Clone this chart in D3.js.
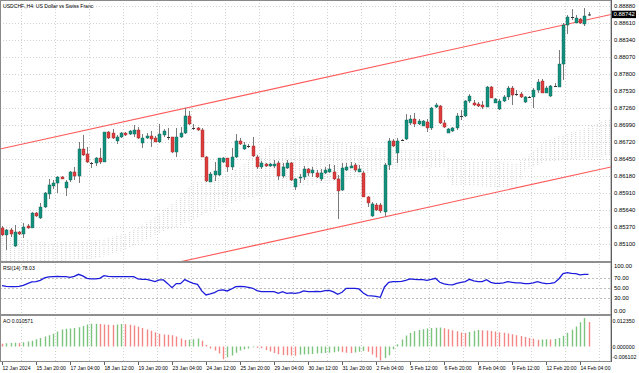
<!DOCTYPE html>
<html>
<head>
<meta charset="utf-8">
<script src="https://cdn.jsdelivr.net/npm/d3@7"></script>
<style>
  body { margin: 0; background: #fff; }
  svg { display: block; font-family: "Liberation Sans", Arial, sans-serif; }
</style>
</head>
<body>
<script>
// USDCHF H4 candles (bar 0 = 12 Jan 2024 12:00)
var open = [0.85359,0.85248,0.85327,0.85073,0.85295,0.85263,0.85390,0.85359,0.85596,0.85517,
  0.85691,0.85897,0.86024,0.86071,0.86166,0.85992,0.86119,0.86246,0.86182,0.86610,
  0.86531,0.86388,0.86388,0.86467,0.86404,0.86879,0.86863,0.86737,0.86800,0.86863,
  0.86847,0.86847,0.86911,0.86705,0.86784,0.86816,0.86784,0.86721,0.86832,0.86800,
  0.86800,0.86562,0.86800,0.86863,0.87133,0.86943,0.86943,0.86911,0.86483,0.86087,
  0.86198,0.86198,0.86404,0.86467,0.86325,0.86483,0.86737,0.86610,0.86657,0.86657,
  0.86483,0.86325,0.86372,0.86341,0.86341,0.86388,0.86182,0.86309,0.86388,0.86008,
  0.86151,0.86166,0.86293,0.86230,0.86230,0.86135,0.86230,0.86246,0.86246,0.86135,
  0.85960,0.86277,0.86309,0.86356,0.86246,0.86230,0.85850,0.85549,0.85723,0.85723,
  0.85612,0.86356,0.86737,0.86547,0.86752,0.86768,0.87022,0.87085,0.87006,0.86974,
  0.87038,0.86943,0.87275,0.87291,0.87022,0.86863,0.86895,0.86943,0.87133,0.87133,
  0.87370,0.87339,0.87323,0.87307,0.87275,0.87592,0.87339,0.87243,0.87370,0.87434,
  0.87576,0.87481,0.87481,0.87354,0.87434,0.87434,0.87544,0.87687,0.87497,0.87449,
  0.87608,0.87592,0.87956,0.88574,0.88701,0.88606,0.88669,0.88590,0.88742];
var high = [0.85390,0.85343,0.85359,0.85406,0.85311,0.85438,0.85422,0.85612,0.85612,0.85755,
  0.85929,0.86135,0.86119,0.86182,0.86182,0.86119,0.86261,0.86325,0.86721,0.86832,
  0.86642,0.86404,0.86483,0.86626,0.86879,0.86895,0.86927,0.86832,0.86879,0.86879,
  0.86911,0.86990,0.86958,0.86847,0.86863,0.86895,0.86816,0.87006,0.86927,0.86943,
  0.86800,0.86943,0.86958,0.87259,0.87212,0.87006,0.86958,0.86943,0.86499,0.86246,
  0.86404,0.86467,0.86483,0.86467,0.86626,0.86847,0.86784,0.86721,0.86689,0.86800,
  0.86515,0.86420,0.86388,0.86388,0.86436,0.86420,0.86388,0.86436,0.86404,0.86151,
  0.86214,0.86341,0.86309,0.86325,0.86277,0.86293,0.86325,0.86372,0.86356,0.86198,
  0.86388,0.86388,0.86404,0.86388,0.86356,0.86261,0.85865,0.85770,0.85755,0.85755,
  0.86388,0.86784,0.86768,0.86784,0.86768,0.87164,0.87148,0.87180,0.87085,0.87069,
  0.87085,0.87275,0.87339,0.87307,0.87069,0.86943,0.86958,0.87180,0.87228,0.87386,
  0.87481,0.87386,0.87354,0.87370,0.87608,0.87608,0.87418,0.87402,0.87465,0.87608,
  0.87608,0.87544,0.87513,0.87449,0.87449,0.87576,0.87719,0.87719,0.87608,0.87624,
  0.87655,0.88178,0.88606,0.88732,0.88827,0.88732,0.88685,0.88843,0.88780];
var low = [0.85232,0.85010,0.85216,0.85058,0.85248,0.85200,0.85343,0.85359,0.85533,0.85501,
  0.85675,0.85818,0.85976,0.85913,0.86135,0.85865,0.86087,0.86119,0.86071,0.86499,
  0.86388,0.86309,0.86341,0.86372,0.86404,0.86768,0.86768,0.86689,0.86784,0.86816,
  0.86832,0.86800,0.86768,0.86626,0.86768,0.86642,0.86721,0.86705,0.86800,0.86752,
  0.86547,0.86483,0.86784,0.86847,0.86990,0.86911,0.86895,0.86483,0.86087,0.86087,
  0.86103,0.86182,0.86388,0.86246,0.86277,0.86467,0.86673,0.86594,0.86626,0.86483,
  0.86293,0.86293,0.86325,0.86325,0.86309,0.86119,0.86151,0.86293,0.86103,0.85960,
  0.86071,0.86119,0.86182,0.86166,0.86151,0.86103,0.86214,0.86230,0.86119,0.85501,
  0.85945,0.86261,0.86309,0.86246,0.86246,0.85850,0.85691,0.85533,0.85628,0.85596,
  0.85533,0.86277,0.86642,0.86388,0.86737,0.86752,0.86990,0.86958,0.86990,0.86974,
  0.86879,0.86911,0.87259,0.87006,0.86943,0.86863,0.86879,0.86911,0.87069,0.87117,
  0.87339,0.87291,0.87275,0.87243,0.87275,0.87418,0.87339,0.87228,0.87354,0.87386,
  0.87307,0.87449,0.87418,0.87339,0.87418,0.87259,0.87497,0.87497,0.87497,0.87434,
  0.87592,0.87592,0.87703,0.88431,0.88653,0.88606,0.88590,0.88558,0.88717];
var close = [0.85248,0.85327,0.85263,0.85295,0.85263,0.85374,0.85359,0.85596,0.85549,0.85691,
  0.85913,0.86040,0.86071,0.86166,0.86135,0.86087,0.86246,0.86182,0.86610,0.86515,
  0.86404,0.86388,0.86467,0.86404,0.86879,0.86784,0.86784,0.86800,0.86863,0.86832,
  0.86895,0.86911,0.86784,0.86784,0.86816,0.86768,0.86721,0.86847,0.86895,0.86800,
  0.86562,0.86800,0.86863,0.87133,0.87006,0.86943,0.86911,0.86483,0.86103,0.86214,
  0.86261,0.86467,0.86467,0.86325,0.86483,0.86737,0.86689,0.86673,0.86657,0.86499,
  0.86325,0.86388,0.86341,0.86372,0.86372,0.86182,0.86325,0.86388,0.86119,0.86135,
  0.86166,0.86293,0.86230,0.86277,0.86166,0.86230,0.86277,0.86293,0.86135,0.85945,
  0.86309,0.86325,0.86341,0.86277,0.86293,0.85850,0.85755,0.85739,0.85644,0.85628,
  0.86356,0.86737,0.86657,0.86737,0.86752,0.87069,0.87085,0.87006,0.87053,0.87053,
  0.86943,0.87259,0.87307,0.87022,0.86958,0.86927,0.86943,0.87133,0.87133,0.87370,
  0.87449,0.87307,0.87291,0.87275,0.87592,0.87418,0.87402,0.87370,0.87434,0.87576,
  0.87465,0.87481,0.87434,0.87434,0.87434,0.87544,0.87671,0.87497,0.87576,0.87608,
  0.87608,0.87956,0.88574,0.88701,0.88701,0.88685,0.88606,0.88717,0.88742];

// RSI(14)
var rsi = [55.3,54,53.3,53.3,54,56,59.3,62.7,63.3,66,
  70.7,72.7,73.3,74,73.3,73.3,72,74,78,74.7,
  70,68.7,68.7,70,75.3,74,73.3,73.3,73.3,73.3,
  73.3,73.3,68.7,68,68,66,63.3,66.7,66.7,59.3,
  51.3,59.3,59.3,67.3,63.3,60,58,44.7,36.7,38.7,
  41.3,46,46.7,44.7,48.7,53.3,54,53.3,52,50,
  45.3,43.3,43.3,43.3,43.3,40,43.3,40,40.7,40,
  41.3,44.7,43.3,43.3,44,43.3,45.3,46,42.7,38,
  42,50,50,50,48.7,40.7,35.3,34.7,34,32,
  52.7,62,63.3,63.3,64,66,68.7,68,67.3,67.3,
  66,68,70,62,58.7,57.3,56.7,60,62,63.3,
  68,64.7,63.3,63.3,67.3,62,60,60,60.7,63.3,
  62,60.7,60.7,59.3,59.3,60.7,63.3,60.7,59.3,60,
  61.3,68.7,79.3,81.3,80,79.3,76.7,78,78.03];

// Awesome Oscillator
var ao = [0.0012,0.0014,0.0015,0.0016,0.0015,0.0018,0.0022,0.0025,0.0031,0.0037,
  0.0043,0.0049,0.0055,0.0065,0.0074,0.0077,0.0078,0.0080,0.0083,0.0089,
  0.0095,0.0098,0.0099,0.0097,0.0095,0.0094,0.0093,0.0095,0.0097,0.0096,
  0.0094,0.0091,0.0086,0.0080,0.0074,0.0068,0.0062,0.0055,0.0052,0.0051,
  0.0049,0.0043,0.0034,0.0028,0.0029,0.0031,0.0034,0.0025,0.0006,-0.0009,
  -0.0018,-0.0031,-0.0056,-0.0047,-0.0039,-0.0027,-0.0018,-0.0012,-0.0009,-0.0004,
  -0.0006,-0.0008,-0.0015,-0.0022,-0.0028,-0.0034,-0.0037,-0.0038,-0.0039,-0.0040,
  -0.0036,-0.0035,-0.0034,-0.0033,-0.0031,-0.0030,-0.0029,-0.0027,-0.0025,-0.0022,
  -0.0025,-0.0027,-0.0028,-0.0026,-0.0023,-0.0020,-0.0023,-0.0035,-0.0048,-0.006102,
  -0.0050,-0.0038,-0.0012,0.0010,0.0030,0.0048,0.0058,0.0066,0.0071,0.0075,
  0.0078,0.0080,0.0081,0.0082,0.0079,0.0075,0.0070,0.0066,0.0061,0.0058,
  0.0063,0.0068,0.0071,0.0070,0.0069,0.0067,0.0065,0.0062,0.0059,0.0056,
  0.0053,0.0049,0.0045,0.0041,0.0037,0.0033,0.0029,0.0030,0.0031,0.0030,
  0.0032,0.0037,0.0046,0.0059,0.0072,0.0087,0.0105,0.01235,0.010571];

// Ichimoku cloud outline (bar position, upper and lower edge)
var cloudBars   = [-0.5, 11.3, 23, 30, 35, 39, 42, 45, 49, 54, 59, 62, 68.5, 73, 82, 89, 104, 105.4, 121, 123, 128, 136, 143.3];
var cloudTop    = [0.85232,0.85121,0.85168,0.85295,0.85485,0.85691,0.85850,0.86087,0.86119,0.86230,0.86483,0.86642,0.86800,0.86832,0.86673,0.86626,0.86594,0.86436,0.86388,0.86467,0.86752,0.86911,0.87101];
var cloudBottom = [0.84820,0.84820,0.84883,0.85042,0.85200,0.85327,0.85390,0.85485,0.85628,0.85755,0.85850,0.85929,0.86008,0.86040,0.86119,0.86277,0.86325,0.86040,0.85992,0.86277,0.86404,0.86467,0.86499];

// trend channel (bar, price at both ends)
var channelBars  = [-0.47, 143.3];
var channelUpper = [0.86610, 0.88740];
var channelLower = [0.84194, 0.86325];

var priceTicks = [0.88880,0.88610,0.88340,0.88070,0.87800,0.87530,0.87260,0.86990,0.86720,0.86450,0.86180,0.85910,0.85640,0.85370,0.85100];
var rsiTicks = [100, 70, 50, 30, 0];
var rsiLevels = [70, 50, 30];
var aoTicks = [0.012350, 0.000000, -0.006102];
var dateLabels = ["12 Jan 2024","15 Jan 20:00","17 Jan 04:00","18 Jan 12:00","19 Jan 20:00","23 Jan 04:00",
  "24 Jan 12:00","25 Jan 20:00","29 Jan 04:00","30 Jan 12:00","31 Jan 20:00","2 Feb 04:00",
  "5 Feb 12:00","6 Feb 20:00","8 Feb 04:00","9 Feb 12:00","12 Feb 20:00","14 Feb 04:00"];
var lastPrice = 0.88742;

(function(){
    var width = 639, height = 373,
        plotRight = 611;

    var svg = d3.select("body").append("svg")
        .attr("width", width)
        .attr("height", height);

    //scales
    var x = d3.scaleLinear().domain([0, 138]).range([2, 588.5]);
    var yP = d3.scaleLinear().domain([0.85100, 0.88880]).range([244.3, 5.7]);
    var yR = d3.scaleLinear().domain([0, 100]).range([313.3, 263.3]);
    var yA = d3.scaleLinear().domain([-0.006102, 0.012350]).range([360.5, 318]);
    var step = x(1) - x(0);

    //panel boxes
    var panels = {
        main: [0, 261],
        rsi: [263, 314],
        ao: [316, 361.5]
    };

    var defs = svg.append("defs");
    Object.keys(panels).forEach(function(k){
        defs.append("clipPath").attr("id", "clip-" + k)
            .append("rect")
            .attr("x", 0).attr("y", panels[k][0])
            .attr("width", plotRight).attr("height", panels[k][1] - panels[k][0]);
    });

    //dotted hatch for the cloud
    defs.append("pattern")
        .attr("id", "kumo")
        .attr("patternUnits", "userSpaceOnUse")
        .attr("x", x(0) - 0.5).attr("y", 0)
        .attr("width", step).attr("height", 2)
        .append("rect")
        .attr("width", 1).attr("height", 1)
        .attr("fill", "#d3d3d3");

    //grid
    var grid = svg.append("g").attr("stroke", "#d2d2d2").attr("stroke-dasharray", "1,2");
    grid.selectAll(".hgrid")
        .data(priceTicks)
        .enter().append("line")
        .attr("x1", 0).attr("x2", plotRight)
        .attr("y1", function(d){ return Math.round(yP(d)) + 0.5; })
        .attr("y2", function(d){ return Math.round(yP(d)) + 0.5; });
    grid.selectAll(".vgrid")
        .data(dateLabels)
        .enter().append("line")
        .attr("x1", function(d, i){ return Math.round(x(i * 8 + 4.5)) + 0.5; })
        .attr("x2", function(d, i){ return Math.round(x(i * 8 + 4.5)) + 0.5; })
        .attr("y1", 0).attr("y2", 361);

    //main panel
    var main = svg.append("g").attr("clip-path", "url(#clip-main)");

    var cloud = cloudBars.map(function(b, i){
        return { bar: b, top: cloudTop[i], bottom: cloudBottom[i] };
    });
    main.append("path")
        .datum(cloud)
        .attr("fill", "url(#kumo)")
        .attr("d", d3.area()
            .x(function(d){ return x(d.bar); })
            .y0(function(d){ return yP(d.bottom); })
            .y1(function(d){ return yP(d.top); }));

    [channelUpper, channelLower].forEach(function(ch){
        main.append("line")
            .attr("x1", x(channelBars[0])).attr("y1", yP(ch[0]))
            .attr("x2", x(channelBars[1])).attr("y2", yP(ch[1]))
            .attr("stroke", "#ff5a5a")
            .attr("stroke-width", 1.1);
    });

    var bars = d3.range(open.length).map(function(i){
        return { i: i, o: open[i], h: high[i], l: low[i], c: close[i] };
    });

    var candles = main.selectAll(".candle")
        .data(bars)
        .enter().append("g")
        .attr("class", "candle");

    candles.append("line")
        .attr("x1", function(d){ return Math.round(x(d.i)) + 0.5; })
        .attr("x2", function(d){ return Math.round(x(d.i)) + 0.5; })
        .attr("y1", function(d){ return yP(d.h); })
        .attr("y2", function(d){ return yP(d.l); })
        .attr("stroke", "#7a7a7a")
        .attr("stroke-width", 1);

    candles.append("rect")
        .attr("x", function(d){ return Math.round(x(d.i)) - 1; })
        .attr("width", 3)
        .attr("y", function(d){ return Math.min(yP(d.o), yP(d.c)); })
        .attr("height", function(d){ return Math.max(1, Math.abs(yP(d.o) - yP(d.c))); })
        .attr("fill", function(d){
            if (d.c === d.o) return "#333";
            return d.c > d.o ? "#13907d" : "#de3d3d";
        })
        .attr("stroke", function(d){
            if (d.c === d.o) return "none";
            return d.c > d.o ? "#0b6356" : "#9c2626";
        })
        .attr("stroke-width", 0.4);

    //RSI panel
    var rsiG = svg.append("g").attr("clip-path", "url(#clip-rsi)");
    rsiG.selectAll(".lvl")
        .data(rsiLevels)
        .enter().append("line")
        .attr("x1", 0).attr("x2", plotRight)
        .attr("y1", function(d){ return Math.round(yR(d)) + 0.5; })
        .attr("y2", function(d){ return Math.round(yR(d)) + 0.5; })
        .attr("stroke", "#bdbdbd")
        .attr("stroke-dasharray", "2,2");
    rsiG.append("path")
        .datum(rsi)
        .attr("fill", "none")
        .attr("stroke", "#1c1cdc")
        .attr("stroke-width", 1.3)
        .attr("d", d3.line()
            .x(function(d, i){ return x(i); })
            .y(function(d){ return yR(d); }));

    //AO panel
    var aoG = svg.append("g").attr("clip-path", "url(#clip-ao)");
    aoG.selectAll(".aobar")
        .data(ao)
        .enter().append("line")
        .attr("x1", function(d, i){ return Math.round(x(i)) + 0.5; })
        .attr("x2", function(d, i){ return Math.round(x(i)) + 0.5; })
        .attr("y1", yA(0))
        .attr("y2", function(d){ return yA(d); })
        .attr("stroke-width", 1.4)
        .attr("stroke", function(d, i){
            return (i > 0 && d > ao[i - 1]) ? "#7cc47e" : "#f38585";
        });

    //frames
    var frame = svg.append("g").attr("fill", "none");
    frame.append("rect")
        .attr("x", 0.5).attr("y", 0.5)
        .attr("width", plotRight - 0.5).attr("height", 361)
        .attr("stroke", "#8a8a8a");
    [262, 315].forEach(function(y){
        frame.append("line")
            .attr("x1", 0).attr("x2", plotRight)
            .attr("y1", y).attr("y2", y)
            .attr("stroke", "#8f8f8f")
            .attr("stroke-width", 2);
    });
    frame.append("line")
        .attr("x1", plotRight + 0.5).attr("x2", plotRight + 0.5)
        .attr("y1", 0).attr("y2", 362)
        .attr("stroke", "#606060");

    //axis labels
    var txt = svg.append("g").attr("fill", "#000").attr("font-size", "5.9px");

    txt.selectAll(".plab")
        .data(priceTicks)
        .enter().append("text")
        .attr("x", plotRight + 3)
        .attr("y", function(d){ return yP(d) + 2; })
        .text(function(d){ return d.toFixed(5); });

    var boxY = yP(lastPrice);
    svg.append("rect")
        .attr("x", plotRight + 1).attr("y", boxY - 3.7)
        .attr("width", 24).attr("height", 7.4)
        .attr("fill", "#000");
    svg.append("text")
        .attr("x", plotRight + 2.5).attr("y", boxY + 2)
        .attr("fill", "#fff").attr("font-size", "5.9px")
        .text(lastPrice.toFixed(5));

    txt.selectAll(".rlab")
        .data(rsiTicks)
        .enter().append("text")
        .attr("x", plotRight + 3)
        .attr("y", function(d){
            var y = yR(d);
            if (d === 100) y = 265.5;
            if (d === 0) y = 311;
            return y + 2;
        })
        .text(function(d){ return d.toFixed(2); });

    txt.selectAll(".alab")
        .data(aoTicks)
        .enter().append("text")
        .attr("x", plotRight + 1.5)
        .attr("y", function(d, i){ return [321, 346.5, 357][i] + 2; })
        .attr("font-size", "5.3px")
        .text(function(d){ return d.toFixed(6); });

    //time axis
    var tAxis = svg.append("g");
    tAxis.selectAll(".tick")
        .data(dateLabels)
        .enter().append("line")
        .attr("x1", function(d, i){ return Math.round(x(i * 8)) + 0.5; })
        .attr("x2", function(d, i){ return Math.round(x(i * 8)) + 0.5; })
        .attr("y1", 362).attr("y2", 365)
        .attr("stroke", "#606060");
    tAxis.selectAll(".dlab")
        .data(dateLabels)
        .enter().append("text")
        .attr("x", function(d, i){ return x(i * 8) + 0.5; })
        .attr("y", 370)
        .attr("font-size", "5.1px")
        .text(function(d){ return d; });

    //indicator captions
    var cap = svg.append("g").attr("font-size", "5.1px").attr("fill", "#000");
    cap.append("text").attr("x", 3).attr("y", 7.5).text("USDCHF.,H4:  US Dollar vs Swiss Franc");
    cap.append("text").attr("x", 3).attr("y", 269.5).text("RSI(14) 78.03");
    cap.append("text").attr("x", 3).attr("y", 323).text("AO 0.010571");
})();
</script>
</body>
</html>
